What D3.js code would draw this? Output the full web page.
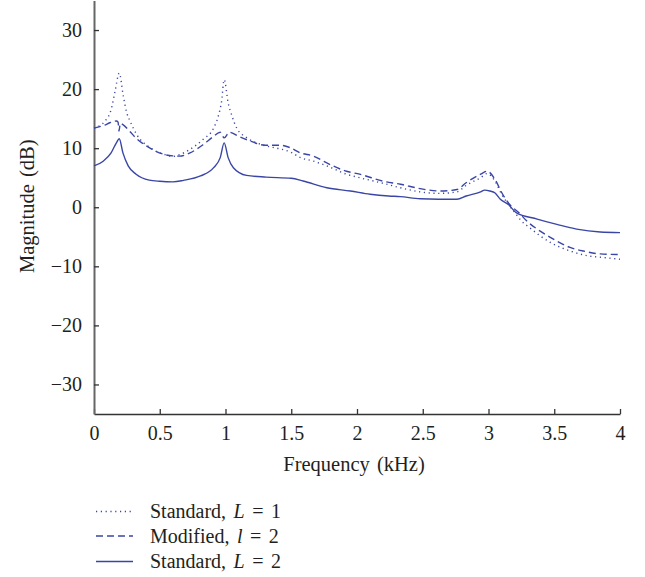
<!DOCTYPE html>
<html lang="en">
<head>
<meta charset="utf-8">
<title>Magnitude response</title>
<script src="https://d3js.org/d3.v7.js"></script>
<style>
  body { margin: 0; background: #fff; }
  text { font-family: "Liberation Serif", "DejaVu Serif", serif; fill: #231f20; }
</style>
</head>
<body>
<div id="canvas"></div>
<script>
// values (frequency in kHz, magnitude in dB)
const std1Freq = [0, 0.084, 0.13, 0.16, 0.192, 0.223, 0.249, 0.274, 0.325, 0.426, 0.54, 0.6, 0.65, 0.73, 0.83, 0.91, 0.945, 0.97, 0.99, 1.02, 1.05, 1.085, 1.16, 1.29, 1.41, 1.49, 1.57, 1.67, 1.77, 1.92, 2.02, 2.2, 2.33, 2.48, 2.63, 2.76, 2.83, 2.94, 2.99, 3.05, 3.1, 3.15, 3.2, 3.25, 3.31, 3.39, 3.49, 3.62, 3.75, 3.87, 4.0]
const std1Mag  = [13.4, 14.6, 16.5, 19.6, 22.7, 18.8, 16.0, 14.6, 12.3, 10.1, 8.9, 8.6, 8.9, 9.8, 11.5, 13.4, 15.4, 17.9, 21.6, 17.7, 15.4, 13.4, 11.8, 10.5, 9.9, 9.4, 8.4, 7.8, 7.0, 5.6, 5.0, 4.05, 3.3, 2.6, 2.35, 2.6, 3.7, 5.0, 5.7, 4.4, 2.2, 0.5, -0.9, -2.3, -3.4, -4.8, -6.2, -7.4, -8.2, -8.5, -8.8]

const modFreq = [0, 0.08, 0.12, 0.17, 0.183, 0.19, 0.2, 0.22, 0.27, 0.32, 0.42, 0.54, 0.6, 0.65, 0.73, 0.83, 0.91, 0.96, 0.99, 1.03, 1.1, 1.19, 1.3, 1.41, 1.49, 1.57, 1.67, 1.77, 1.92, 2.02, 2.2, 2.33, 2.48, 2.63, 2.76, 2.83, 2.94, 2.99, 3.05, 3.1, 3.16, 3.23, 3.29, 3.37, 3.47, 3.62, 3.72, 3.85, 4.0]
const modMag  = [13.4, 13.9, 14.3, 14.6, 14.4, 12.9, 14.2, 14.0, 12.9, 11.7, 10.1, 8.9, 8.7, 8.65, 9.2, 10.6, 12.0, 12.7, 11.75, 12.7, 12.0, 11.2, 10.5, 10.5, 10.1, 9.2, 8.65, 7.5, 6.1, 5.6, 4.4, 3.9, 3.15, 2.75, 3.0, 4.15, 5.6, 6.1, 4.7, 2.5, 0.5, -0.9, -2.3, -3.7, -5.1, -6.8, -7.4, -7.9, -8.0]

const std2Freq = [0, 0.07, 0.13, 0.17, 0.192, 0.22, 0.26, 0.32, 0.42, 0.5, 0.6, 0.68, 0.81, 0.91, 0.96, 0.99, 1.02, 1.06, 1.16, 1.31, 1.5, 1.59, 1.77, 1.95, 2.1, 2.24, 2.33, 2.48, 2.76, 2.83, 2.94, 2.97, 3.01, 3.05, 3.09, 3.15, 3.21, 3.37, 3.52, 3.67, 3.85, 4.0]
const std2Mag  = [7.0, 7.8, 9.2, 10.9, 11.6, 9.2, 7.0, 5.6, 4.6, 4.4, 4.3, 4.55, 5.3, 6.7, 8.4, 10.9, 8.4, 6.7, 5.4, 5.1, 4.9, 4.45, 3.3, 2.75, 2.2, 1.9, 1.8, 1.45, 1.35, 1.9, 2.6, 2.9, 2.75, 2.4, 1.35, 0.5, -0.9, -2.0, -2.9, -3.7, -4.2, -4.3]

const xTicks = [0, 0.5, 1, 1.5, 2, 2.5, 3, 3.5, 4]
const xTickLabels = ["0", "0.5", "1", "1.5", "2", "2.5", "3", "3.5", "4"]
const yTicks = [-30, -20, -10, 0, 10, 20, 30]
const yTickLabels = ["\u221230", "\u221220", "\u221210", "0", "10", "20", "30"]

const seriesNames = ["Standard, ", "Modified, ", "Standard, "]
const seriesVars = ["L", "l", "L"]
const seriesVals = [" = 1", " = 2", " = 2"]

const width = 645
const height = 577
const lineColor = "#3a46a6"

const svg = d3.select("#canvas")
  .append("svg")
    .attr("width", width)
    .attr("height", height)

const x = d3.scaleLinear().domain([0, 4]).range([94, 620])
const y = d3.scaleLinear().domain([-35, 35]).range([414, 0.5])

// axes, ticks pointing inward
const xAxis = svg.append("g")
  .attr("transform", "translate(0," + y(-35) + ")")
  .call(d3.axisBottom(x)
    .tickValues(xTicks)
    .tickFormat((d, i) => xTickLabels[i])
    .tickSize(-5)
    .tickSizeOuter(0)
    .tickPadding(12))
xAxis.select(".domain").attr("stroke", "#333").attr("stroke-width", 1.6)
xAxis.selectAll(".tick line").attr("stroke", "#333").attr("stroke-width", 1.3)
xAxis.selectAll("text").style("font-size", "20px").attr("fill", "#231f20")

const yAxis = svg.append("g")
  .attr("transform", "translate(" + x(0) + ",0)")
  .call(d3.axisLeft(y)
    .tickValues(yTicks)
    .tickFormat((d, i) => yTickLabels[i])
    .tickSize(-5)
    .tickSizeOuter(0)
    .tickPadding(12))
yAxis.select(".domain").attr("stroke", "#666").attr("stroke-width", 2)
yAxis.selectAll(".tick line").attr("stroke", "#333").attr("stroke-width", 1.3)
yAxis.selectAll("text").style("font-size", "20px").attr("fill", "#231f20")

svg.append("text")
  .attr("x", (x(0) + x(4)) / 2 - 3)
  .attr("y", 471)
  .attr("text-anchor", "middle")
  .style("font-size", "20.5px")
  .style("word-spacing", "2px")
  .text("Frequency (kHz)")

svg.append("text")
  .attr("transform", "translate(34," + (y(0) - 1) + ") rotate(-90)")
  .attr("text-anchor", "middle")
  .style("font-size", "20.5px")
  .style("word-spacing", "2px")
  .text("Magnitude (dB)")

// curves
const line = d3.line()
  .x(d => x(d[0]))
  .y(d => y(d[1]))
  .curve(d3.curveMonotoneX)

const series = [
  { f: std1Freq, m: std1Mag, dash: "1.2,3.6" },
  { f: modFreq, m: modMag, dash: "7,4" },
  { f: std2Freq, m: std2Mag, dash: null }
]

series.forEach(s => {
  svg.append("path")
    .datum(s.f.map((f, i) => [f, s.m[i]]))
    .attr("fill", "none")
    .attr("stroke", lineColor)
    .attr("stroke-width", 1.4)
    .attr("stroke-dasharray", s.dash)
    .attr("d", line)
})

// legend
const legend = svg.append("g")
const rowY = [511.5, 536, 561.5]
series.forEach((s, i) => {
  legend.append("line")
    .attr("x1", 96).attr("x2", 133)
    .attr("y1", rowY[i]).attr("y2", rowY[i])
    .attr("stroke", lineColor)
    .attr("stroke-width", 1.4)
    .attr("stroke-dasharray", s.dash)
  const t = legend.append("text")
    .attr("x", 150)
    .attr("y", rowY[i] + 6.5)
    .style("font-size", "20px")
    .style("word-spacing", "2.5px")
  t.append("tspan").text(seriesNames[i])
  t.append("tspan").style("font-style", "italic").text(seriesVars[i])
  t.append("tspan").text(seriesVals[i])
})
</script>
</body>
</html>
